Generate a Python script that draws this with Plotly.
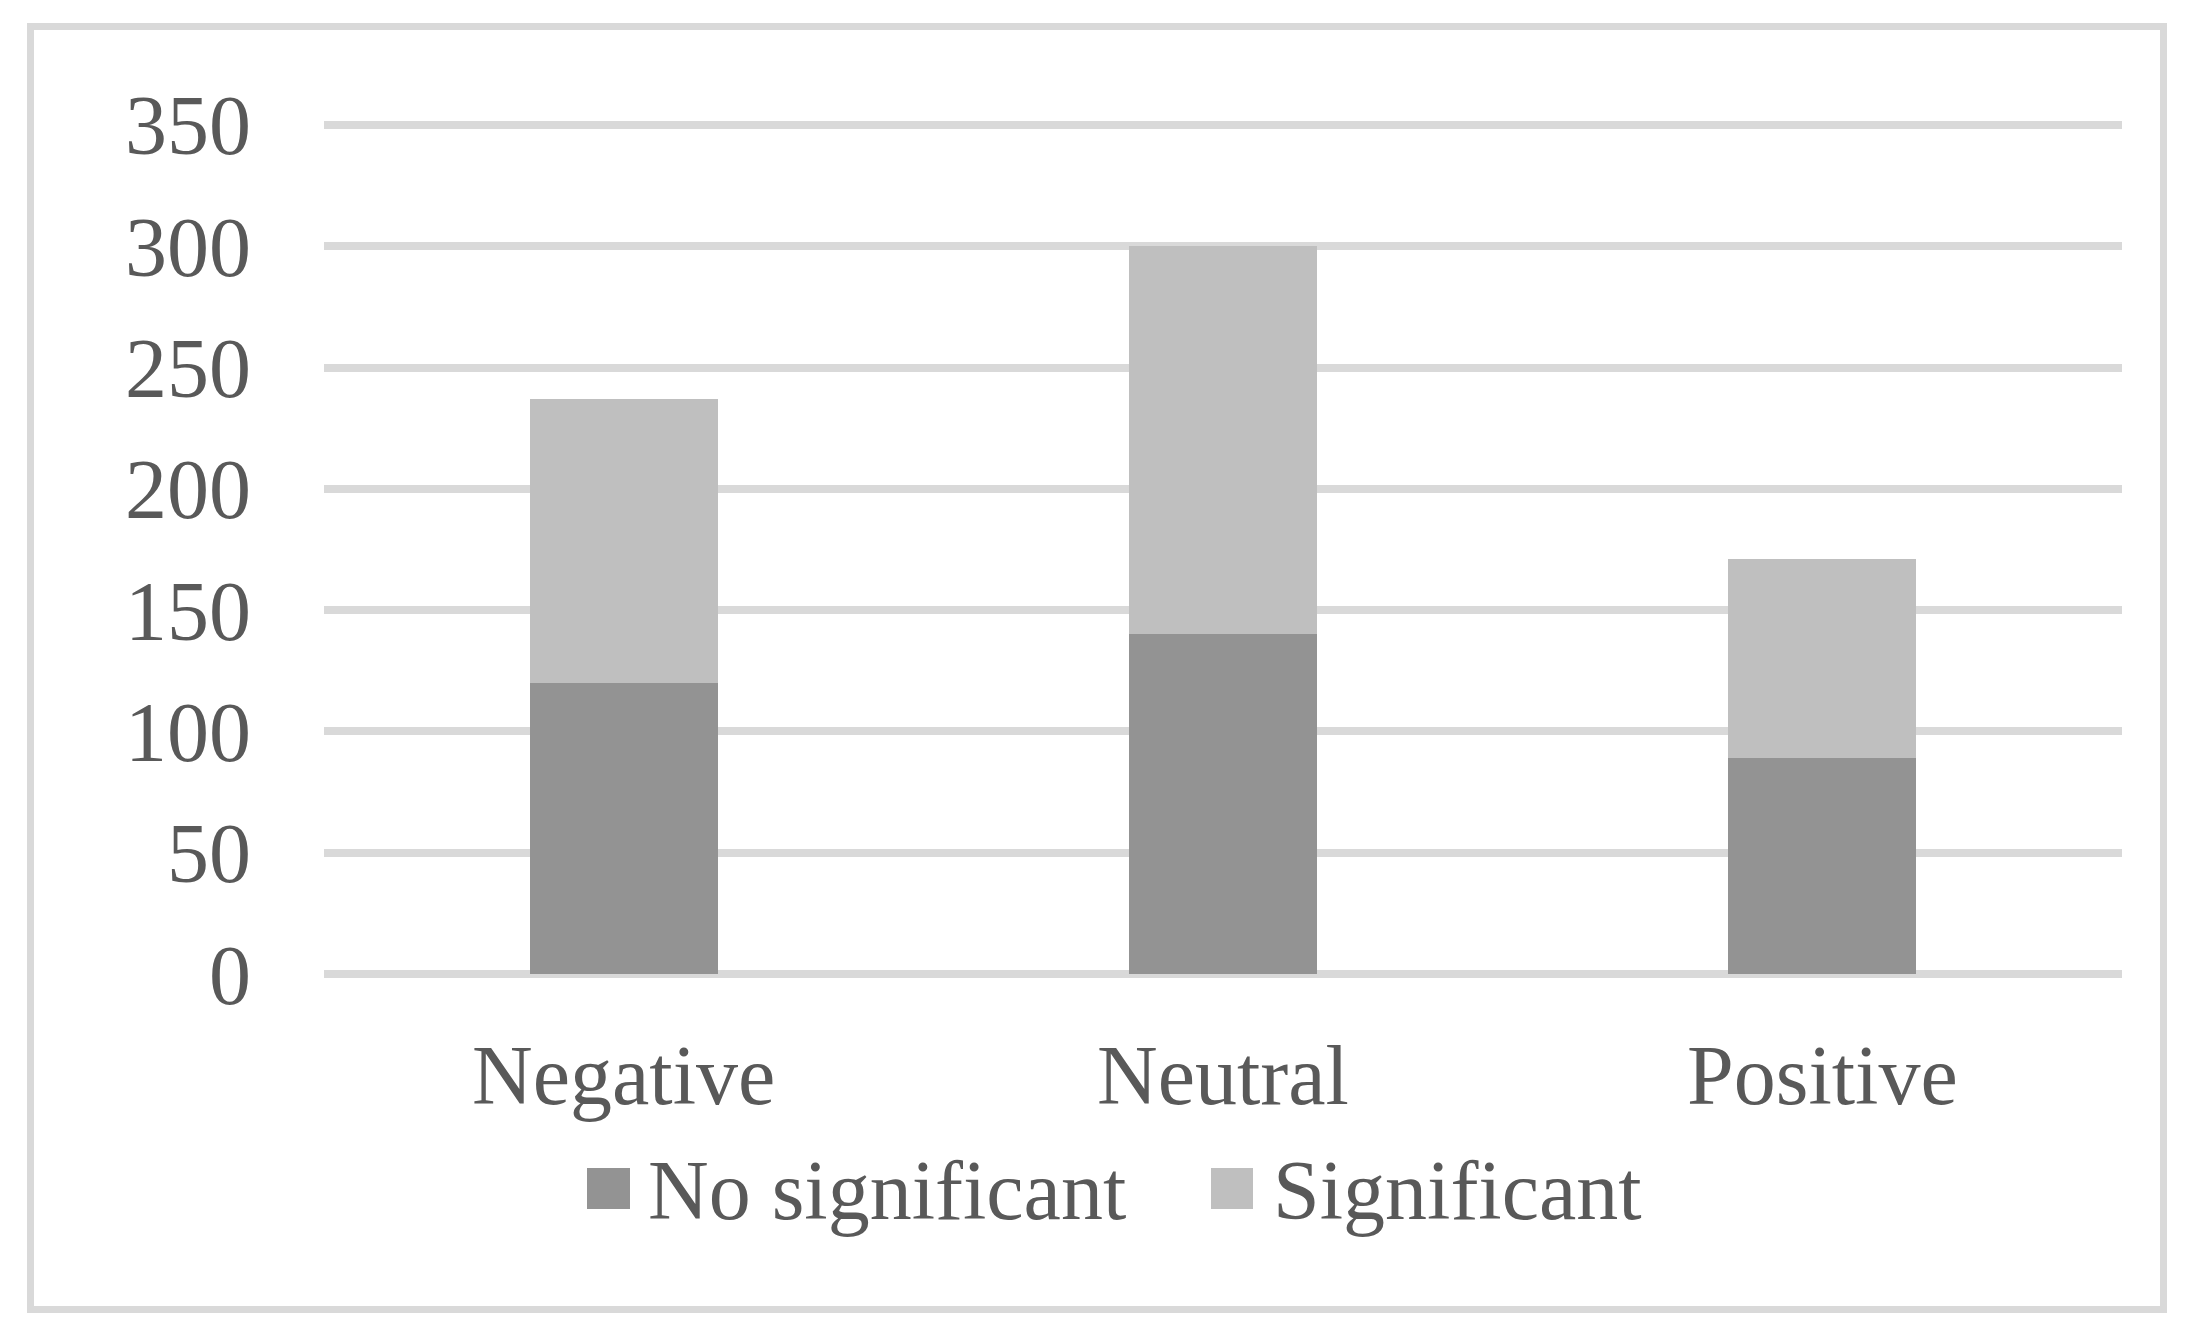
import plotly.graph_objects as go

categories = ["Negative", "Neutral", "Positive"]
series_names = ["No significant", "Significant"]
no_significant = [120, 140, 89]
significant = [117, 160, 82]
series_colors = ["#939393", "#bfbfbf"]
y_ticks = [0, 50, 100, 150, 200, 250, 300, 350]

W, H = 2190, 1335
OFF = 8  # page body margin offset
L, R, T, B = 324 - OFF, 68 + OFF, 120 - OFF, 356 + OFF
PW, PH = W - L - R, H - T - B

def px_x(x):
    return (x - OFF - L) / PW

def px_y(y):
    return (H - B - (y - OFF)) / PH

FONT = "Times New Roman, Liberation Serif, serif"
TXT = "#595959"

fig = go.Figure()
for name, vals, col in zip(series_names, [no_significant, significant], series_colors):
    fig.add_trace(go.Bar(x=categories, y=vals, name=name, marker=dict(color=col, line=dict(width=0)),
                         showlegend=False))

shapes = []
# outer border
shapes.append(dict(type="rect", xref="paper", yref="paper",
                   x0=px_x(30.5), x1=px_x(2163.5), y0=px_y(1309.5), y1=px_y(26.5),
                   line=dict(color="#d9d9d9", width=7), fillcolor="rgba(0,0,0,0)", layer="below"))

annotations = []
# manual legend
leg_items = [(587, 630, 646), (1211, 1253, 1271)]
for (mx0, mx1, tx), name, col in zip(leg_items, series_names, series_colors):
    shapes.append(dict(type="rect", xref="paper", yref="paper",
                       x0=px_x(mx0), x1=px_x(mx1), y0=px_y(1209), y1=px_y(1168),
                       line=dict(width=0), fillcolor=col))
    annotations.append(dict(text=name, xref="paper", yref="paper", x=px_x(tx), y=px_y(1190),
                            xanchor="left", yanchor="middle", showarrow=False,
                            font=dict(family=FONT, size=84, color=TXT)))

fig.update_layout(
    width=W, height=H,
    margin=dict(l=L, r=R, t=T, b=B, pad=0),
    paper_bgcolor="white", plot_bgcolor="white",
    barmode="stack", bargap=0.686,
    font=dict(family=FONT, size=84, color=TXT),
    shapes=shapes, annotations=annotations,
    xaxis=dict(showgrid=False, showline=False, zeroline=False, ticks="",
               tickfont=dict(family=FONT, size=84, color=TXT), ticklabelstandoff=40),
    yaxis=dict(range=[-2, 352], tickvals=y_ticks, showgrid=True, gridcolor="#d9d9d9", gridwidth=8,
               zeroline=False, showline=False, ticks="",
               tickfont=dict(family=FONT, size=84, color=TXT), ticklabelstandoff=72),
)

fig.write_html("out.html")
